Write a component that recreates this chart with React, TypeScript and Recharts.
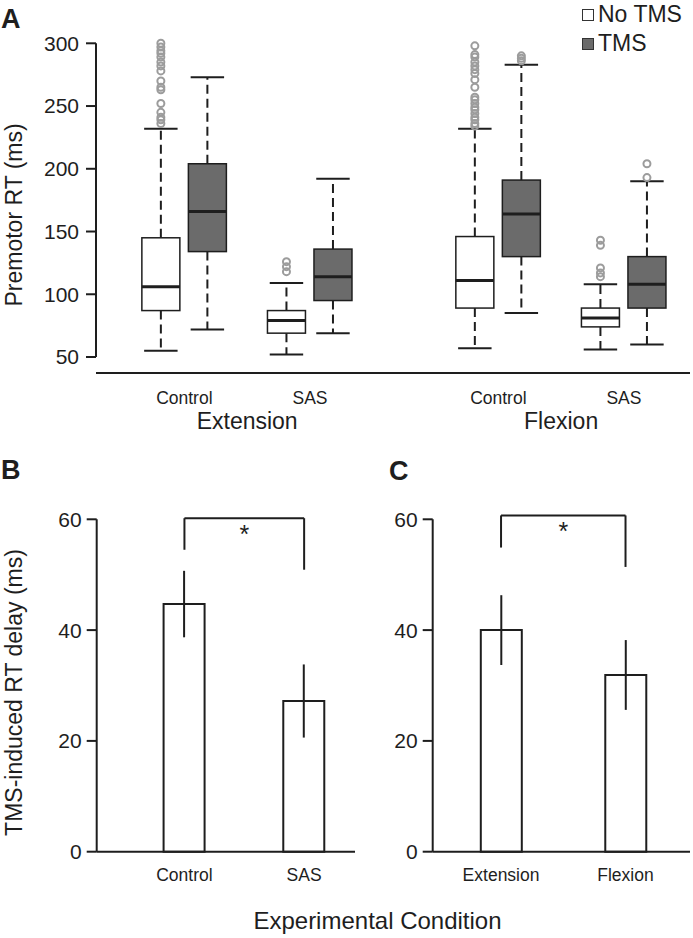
import React from 'react';
import { ComposedChart, Bar, XAxis, YAxis, ErrorBar, ReferenceLine, ReferenceDot, Legend, Label } from 'recharts';

const FONT = "'Liberation Sans', Arial, Helvetica, sans-serif";
const INK = '#1e1e1e';
const TMS_FILL = '#6b6b6b';
const OUTLIER = '#9c9c9c';

// ---- panel A: premotor RT box plots ----
const GROUPS = ['Extension', 'Flexion'];
const CONDITIONS = ['Control', 'SAS'];
const SERIES = ['No TMS', 'TMS'];
const RT_TICKS = [50, 100, 150, 200, 250, 300];

// boxes in order: Ext-Control, Ext-SAS, Flex-Control, Flex-SAS
const noTmsLow = [55, 52, 57, 56];
const noTmsQ1 = [87, 69, 89, 74];
const noTmsMedian = [106, 79, 111, 81];
const noTmsQ3 = [145, 87, 146, 89];
const noTmsHigh = [232, 109, 232, 108];
const noTmsOutliers = [
  [300, 297, 294, 292, 289, 285, 282, 278, 270, 265, 263, 252, 245, 241, 239, 236],
  [126, 122, 118],
  [298, 291, 289, 285, 282, 279, 276, 271, 265, 257, 255, 252, 249, 247, 244, 241, 239, 236, 234],
  [143, 139, 121, 117, 114],
];

const tmsLow = [72, 69, 85, 60];
const tmsQ1 = [134, 95, 130, 89];
const tmsMedian = [166, 114, 164, 108];
const tmsQ3 = [204, 136, 191, 130];
const tmsHigh = [273, 192, 283, 190];
const tmsOutliers = [[], [], [290, 288, 286], [204, 193]];

// ---- panels B and C: TMS-induced delay ----
const DELAY_TICKS = [0, 20, 40, 60];
const B_CATS = ['Control', 'SAS'];
const B_DELAY = [44.7, 27.2];
const B_SEM = [6.0, 6.6];
const B_BRACKET = [54.5, 60.2, 50.9]; // left foot, top, right foot

const C_CATS = ['Extension', 'Flexion'];
const C_DELAY = [40.0, 31.9];
const C_SEM = [6.3, 6.3];
const C_BRACKET = [54.9, 60.7, 51.4];

// layout of panel A x axis (numeric units, 1 unit = spacing between paired boxes)
const GROUP_X = [1.9, 4.6, 8.65, 11.35];
const A_DOMAIN = [0, 12.77];
const GROUP_MID = [(GROUP_X[0] + GROUP_X[1]) / 2, (GROUP_X[2] + GROUP_X[3]) / 2];
const GROUP_LABEL_Y = -1.1; // below the 50 ms floor, in data units

const seriesStats = [
  { low: noTmsLow, q1: noTmsQ1, median: noTmsMedian, q3: noTmsQ3, high: noTmsHigh, out: noTmsOutliers },
  { low: tmsLow, q1: tmsQ1, median: tmsMedian, q3: tmsQ3, high: tmsHigh, out: tmsOutliers },
];

const boxRows = GROUP_X.flatMap((gx, i) =>
  seriesStats.map((s, k) => ({
    pos: gx + (k === 0 ? -0.5 : 0.5),
    series: k,
    low: s.low[i],
    q1: s.q1[i],
    median: s.median[i],
    q3: s.q3[i],
    high: s.high[i],
    out: s.out[i],
  }))
);

function BoxShape(props: any) {
  const { x, y, width, height } = props;
  const d = props.payload ?? props;
  const k = height / (d.high - d.low);
  const py = (v: number) => y + (d.high - v) * k;
  const cx = x + width / 2;
  const cap = width * 0.44;
  const fill = d.series === 0 ? '#fff' : TMS_FILL;
  return (
    <g>
      <line x1={cx} x2={cx} y1={py(d.q3)} y2={py(d.high)} stroke={INK} strokeWidth={2} strokeDasharray="9 5" />
      <line x1={cx} x2={cx} y1={py(d.q1)} y2={py(d.low)} stroke={INK} strokeWidth={2} strokeDasharray="9 5" />
      <line x1={cx - cap} x2={cx + cap} y1={py(d.high)} y2={py(d.high)} stroke={INK} strokeWidth={2} />
      <line x1={cx - cap} x2={cx + cap} y1={py(d.low)} y2={py(d.low)} stroke={INK} strokeWidth={2} />
      <rect x={x} y={py(d.q3)} width={width} height={py(d.q1) - py(d.q3)} fill={fill} stroke={INK} strokeWidth={1.5} />
      <line x1={x} x2={x + width} y1={py(d.median)} y2={py(d.median)} stroke={INK} strokeWidth={3} />
      {d.out.map((v: number, j: number) => (
        <circle key={j} cx={cx} cy={py(v)} r={3.5} fill="none" stroke={OUTLIER} strokeWidth={2} />
      ))}
    </g>
  );
}

const yTitle = (text: string, dy: number) => (props: any) => {
  const vb = props.viewBox;
  const x = vb.x + 22;
  const y = vb.y + vb.height / 2 + dy;
  return (
    <text x={x} y={y} transform={`rotate(-90 ${x} ${y})`} textAnchor="middle" fontFamily={FONT} fontSize={23} fill={INK}>
      {text}
    </text>
  );
};

function LegendBox() {
  return (
    <div style={{ fontFamily: FONT, fontSize: 23, color: INK, lineHeight: '29px' }}>
      {SERIES.map((s, i) => (
        <div key={s} style={{ display: 'flex', alignItems: 'center' }}>
          <span
            style={{
              display: 'inline-block',
              width: 10,
              height: 10,
              border: '1px solid #333',
              background: i === 0 ? '#fff' : TMS_FILL,
              marginRight: 4,
            }}
          />
          {s}
        </div>
      ))}
    </div>
  );
}

function PanelA() {
  return (
    <div style={{ position: 'absolute', left: 0, top: 0 }}>
      <ComposedChart width={693} height={440} data={boxRows} margin={{ top: 43.3, right: 3, bottom: 39, left: 0 }}>
        <XAxis
          type="number"
          dataKey="pos"
          domain={A_DOMAIN}
          ticks={GROUP_X}
          tickFormatter={(v: number, i: number) => CONDITIONS[i % 2]}
          height={28}
          axisLine={{ stroke: INK, strokeWidth: 2 }}
          tickLine={false}
          tickSize={0}
          tickMargin={18.5}
          tick={{ fill: INK, fontSize: 17.5, fontFamily: FONT }}
        />
        <YAxis
          width={96}
          domain={[50, 300]}
          ticks={RT_TICKS}
          padding={{ top: 0, bottom: 16 }}
          axisLine={false}
          tickLine={{ stroke: INK, strokeWidth: 2 }}
          tickSize={10}
          tickMargin={7}
          tick={{ fill: INK, fontSize: 21, fontFamily: FONT }}
          label={<Label content={yTitle('Premotor RT (ms)', 6.8)} />}
        />
        <ReferenceLine
          segment={[{ x: A_DOMAIN[0], y: 50 }, { x: A_DOMAIN[0], y: 300 }]}
          stroke={INK}
          strokeWidth={2}
          ifOverflow="visible"
        />
        <Bar dataKey={(d: any) => [d.low, d.high]} barSize={38} shape={(p: any) => <BoxShape {...p} />} isAnimationActive={false} />
        {GROUPS.map((g, i) => (
          <ReferenceDot
            key={g}
            x={GROUP_MID[i]}
            y={GROUP_LABEL_Y}
            r={0}
            fill="none"
            stroke="none"
            ifOverflow="visible"
            label={{ value: g, position: 'center', fill: INK, fontSize: 23, fontFamily: FONT }}
          />
        ))}
        <Legend
          layout="horizontal"
          verticalAlign="middle"
          align="center"
          wrapperStyle={{ top: 0, left: 582, width: 111 }}
          content={() => <LegendBox />}
        />
      </ComposedChart>
    </div>
  );
}

function DelayPanel({ cats, delay, sem, bracket, left, width, yWidth, right, domain, title }: any) {
  const rows = cats.map((c: string, i: number) => ({ pos: i + 1, name: c, delay: delay[i], sem: sem[i] }));
  const [footL, top, footR] = bracket;
  return (
    <div style={{ position: 'absolute', left, top: 440 }}>
      <ComposedChart width={width} height={498} data={rows} margin={{ top: 79.3, right, bottom: 46.3, left: 0 }}>
        <XAxis
          type="number"
          dataKey="pos"
          domain={domain}
          ticks={[1, 2]}
          tickFormatter={(v: number) => cats[v - 1]}
          height={40}
          axisLine={{ stroke: INK, strokeWidth: 2 }}
          tickLine={false}
          tickSize={0}
          tickMargin={17.3}
          tick={{ fill: INK, fontSize: 17.5, fontFamily: FONT }}
        />
        <YAxis
          width={yWidth}
          domain={[0, 60]}
          ticks={DELAY_TICKS}
          axisLine={{ stroke: INK, strokeWidth: 2 }}
          tickLine={{ stroke: INK, strokeWidth: 2 }}
          tickSize={10}
          tickMargin={5}
          tick={{ fill: INK, fontSize: 21, fontFamily: FONT }}
          label={title ? <Label content={yTitle(title, 7)} /> : undefined}
        />
        <Bar dataKey="delay" barSize={41} fill="#fff" stroke={INK} strokeWidth={2} isAnimationActive={false}>
          <ErrorBar dataKey="sem" width={0} stroke={INK} strokeWidth={2} direction="y" />
        </Bar>
        <ReferenceLine segment={[{ x: 1, y: footL }, { x: 1, y: top }]} stroke={INK} strokeWidth={2} ifOverflow="visible" />
        <ReferenceLine segment={[{ x: 1, y: top }, { x: 2, y: top }]} stroke={INK} strokeWidth={2} ifOverflow="visible" />
        <ReferenceLine segment={[{ x: 2, y: footR }, { x: 2, y: top }]} stroke={INK} strokeWidth={2} ifOverflow="visible" />
        <ReferenceDot
          x={1.5}
          y={(footL + top) / 2}
          r={0}
          fill="none"
          stroke="none"
          ifOverflow="visible"
          label={{ value: '*', position: 'center', fill: INK, fontSize: 25, fontFamily: FONT }}
        />
      </ComposedChart>
    </div>
  );
}

export default function App() {
  return (
    <div style={{ position: 'absolute', left: 0, top: 0, width: 693, height: 938, background: '#fff' }}>
      <PanelA />
      <DelayPanel
        cats={B_CATS}
        delay={B_DELAY}
        sem={B_SEM}
        bracket={B_BRACKET}
        left={0}
        width={360}
        yWidth={96.7}
        right={5}
        domain={[0.267, 2.425]}
        title="TMS-induced RT delay (ms)"
      />
      <DelayPanel
        cats={C_CATS}
        delay={C_DELAY}
        sem={C_SEM}
        bracket={C_BRACKET}
        left={360}
        width={333}
        yWidth={72.7}
        right={3}
        domain={[0.451, 2.518]}
      />
      <svg width={693} height={938} style={{ position: 'absolute', left: 0, top: 0, pointerEvents: 'none' }}>
        <g fontFamily={FONT} fontWeight="bold" fontSize={27} fill={INK}>
          <text x={1} y={28.3}>A</text>
          <text x={1} y={479.3}>B</text>
          <text x={389} y={480}>C</text>
        </g>
        <text x={377.5} y={929} textAnchor="middle" fontFamily={FONT} fontSize={24} fill={INK}>
          Experimental Condition
        </text>
      </svg>
    </div>
  );
}
